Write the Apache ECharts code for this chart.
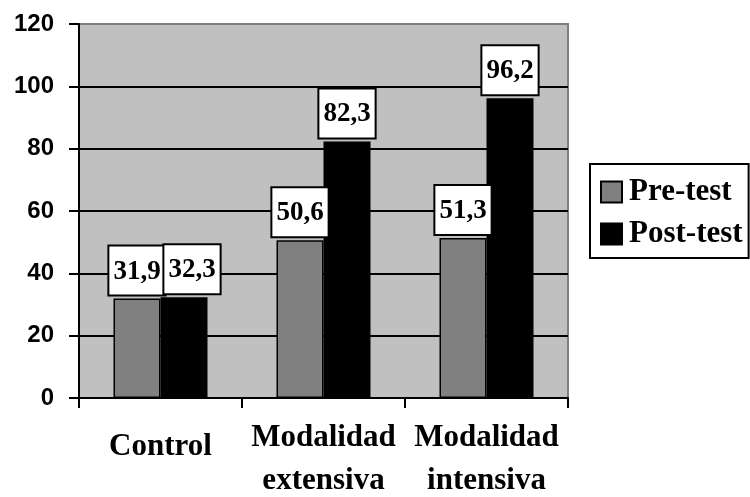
<!DOCTYPE html>
<html>
<head>
<meta charset="utf-8">
<script src="https://cdn.jsdelivr.net/npm/echarts@6/dist/echarts.min.js"></script>
<style>
html,body{margin:0;padding:0;background:#fff;}
#chart{width:750px;height:497px;}
</style>
</head>
<body>
<div id="chart"></div>
<script>
const categories = ['Control', 'Modalidad\nextensiva', 'Modalidad\nintensiva'];
const seriesNames = ['Pre-test', 'Post-test'];
const preTest = [31.9, 50.6, 51.3];
const postTest = [32.3, 82.3, 96.2];
const yTicks = { min: 0, max: 120, interval: 20 };

const serif = '"Liberation Serif", "Times New Roman", serif';
const sans = '"Liberation Sans", Arial, sans-serif';

function fmt(p) { return String(p.value).replace('.', ','); }

const labelStyle = {
  show: true,
  position: 'top',
  distance: 4,
  formatter: fmt,
  color: '#000',
  fontFamily: serif,
  fontWeight: 'bold',
  fontSize: 27,
  lineHeight: 26,
  backgroundColor: '#fff',
  borderColor: '#000',
  borderWidth: 2,
  padding: [12, 4, 10, 4]
};

const chart = echarts.init(document.getElementById('chart'));
chart.setOption({
  animation: false,
  backgroundColor: '#fff',
  grid: {
    left: 79, right: 182, top: 24, bottom: 99,
    containLabel: false,
    outerBoundsMode: 'none',
    show: true, backgroundColor: '#c0c0c0', borderColor: '#808080', borderWidth: 2
  },
  legend: {
    orient: 'vertical',
    left: 590, top: 164,
    data: seriesNames,
    itemWidth: 21, itemHeight: 21, itemGap: 6,
    borderColor: '#000', borderWidth: 2,
    padding: [10, 6, 6, 10],
    textStyle: { fontFamily: serif, fontWeight: 'bold', fontSize: 31, lineHeight: 36, color: '#000', padding: [0, 0, 0, 2] },
    icon: 'rect'
  },
  xAxis: {
    type: 'category',
    data: categories,
    axisLine: { lineStyle: { color: '#000', width: 2 } },
    axisTick: { show: true, length: 10, lineStyle: { color: '#000', width: 2 } },
    axisLabel: {
      interval: 0,
      margin: 18,
      fontFamily: serif, fontWeight: 'bold', fontSize: 31, lineHeight: 43, color: '#000',
      formatter: function (v) { return v.indexOf('\n') < 0 ? '{c|' + v + '}' : v; },
      rich: { c: { fontFamily: serif, fontWeight: 'bold', fontSize: 31, lineHeight: 43, color: '#000', padding: [18, 0, 0, 0] } }
    },
    splitLine: { show: false }
  },
  yAxis: {
    type: 'value',
    min: yTicks.min, max: yTicks.max, interval: yTicks.interval,
    axisLine: { show: true, lineStyle: { color: '#000', width: 2 } },
    axisTick: { show: true, length: 10, lineStyle: { color: '#000', width: 2 } },
    axisLabel: { margin: 25, fontFamily: sans, fontWeight: 'bold', fontSize: 24, color: '#000' },
    splitLine: { show: true, lineStyle: { color: ['#000', '#000', '#000', '#000', '#000', '#000', '#808080'], width: 2 } }
  },
  series: [
    {
      name: seriesNames[0], type: 'bar', data: preTest,
      barWidth: 47, barGap: '0%',
      itemStyle: { color: '#808080', borderColor: '#000', borderWidth: 1.5 },
      label: Object.assign({}, labelStyle)
    },
    {
      name: seriesNames[1], type: 'bar', data: postTest.map(function (v, i) {
        return i === 0 ? { value: v, label: { offset: [8, 0] } } : v;
      }),
      barWidth: 47, barGap: '0%',
      itemStyle: { color: '#000', borderColor: '#000', borderWidth: 1.5 },
      label: Object.assign({}, labelStyle)
    }
  ]
});
</script>
</body>
</html>
